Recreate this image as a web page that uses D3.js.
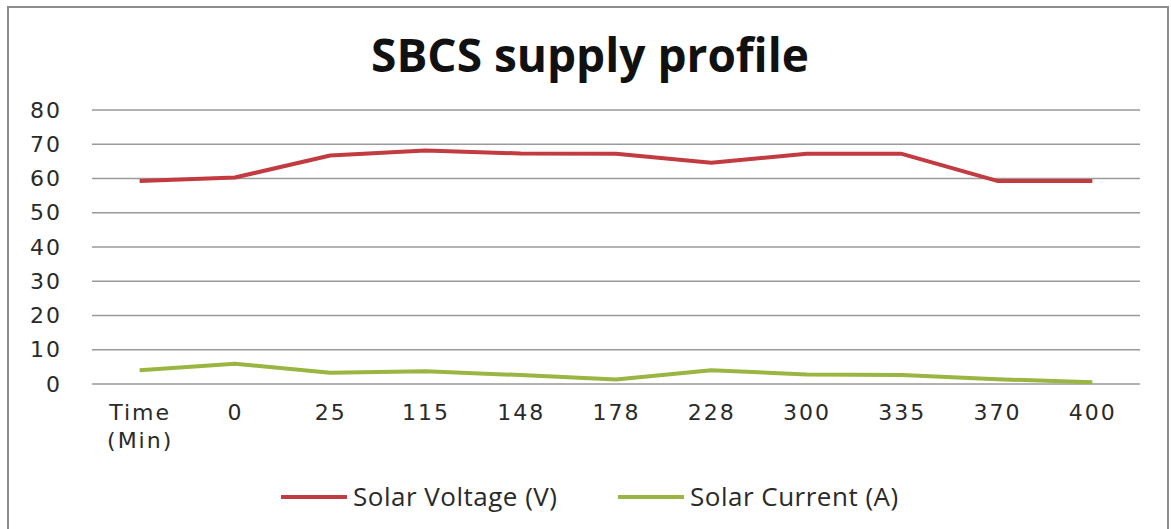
<!DOCTYPE html>
<html>
<head>
<meta charset="utf-8">
<script src="https://cdn.jsdelivr.net/npm/d3@7"></script>
<style>
  body { margin: 0; background: #fff; }
  text { font-family: "DejaVu Sans", sans-serif; fill: #2a2a2a; }
</style>
</head>
<body>
<div id="chart"></div>
<script>
(function () {

  var categories = ['Time (Min)', '0', '25', '115', '148', '178', '228', '300', '335', '370', '400']
  var voltage = [59.3, 60.3, 66.7, 68.2, 67.3, 67.2, 64.6, 67.2, 67.2, 59.3, 59.3]
  var current = [4.0, 5.9, 3.3, 3.7, 2.6, 1.3, 4.0, 2.8, 2.6, 1.4, 0.5]
  var yTicks = [0, 10, 20, 30, 40, 50, 60, 70, 80]

  var series = [
    {name: 'Solar Voltage (V)', values: voltage, color: '#c23b40'},
    {name: 'Solar Current (A)', values: current, color: '#9ab541'}
  ]

  var W = 1171, H = 529
  var margin = {top: 110, right: 31, bottom: 145, left: 92}
  var width = W - margin.left - margin.right,
      height = H - margin.top - margin.bottom

  var svg = d3.select('#chart').append('svg')
    .attr('width', W)
    .attr('height', H)

  // outer frame
  svg.append('rect')
    .attr('x', 8).attr('y', 7)
    .attr('width', 1160).attr('height', 530)
    .attr('fill', 'none')
    .attr('stroke', '#8c8c8c')
    .attr('stroke-width', 2)

  svg.append('text')
    .attr('x', 590).attr('y', 72)
    .attr('text-anchor', 'middle')
    .style('font-family', '"Open Sans", sans-serif')
    .style('font-weight', 'bold')
    .style('font-size', '46px')
    .style('fill', '#111')
    .text('SBCS supply profile')

  var g = svg.append('g')
    .attr('transform', 'translate(' + margin.left + ',' + margin.top + ')')

  var x = d3.scalePoint()
    .domain(categories)
    .range([0, width])
    .padding(0.5)

  var y = d3.scaleLinear()
    .domain([0, 80])
    .range([height, 0])

  // gridlines
  g.append('g')
    .selectAll('line')
    .data(yTicks)
    .enter().append('line')
    .attr('x1', 0).attr('x2', width)
    .attr('y1', d => y(d)).attr('y2', d => y(d))
    .attr('stroke', '#9a9a9a')
    .attr('stroke-width', 1.5)

  var yAxis = d3.axisLeft(y).tickValues(yTicks).tickSize(0).tickPadding(30)
  g.append('g')
    .attr('class', 'axis y-axis')
    .call(yAxis)
    .call(s => s.select('.domain').remove())
    .selectAll('text')
    .style('font-size', '22px')
    .style('letter-spacing', '2px')

  var xAxis = d3.axisBottom(x).tickSize(0).tickPadding(20)
  var xg = g.append('g')
    .attr('class', 'axis x-axis')
    .attr('transform', 'translate(0,' + height + ')')
    .call(xAxis)
  xg.select('.domain').remove()
  xg.selectAll('text')
    .style('font-size', '22px')
    .style('letter-spacing', '2px')
    .each(function (d) {
      var parts = d.split(' ')
      if (parts.length > 1) {
        var t = d3.select(this).text(null)
        parts.forEach(function (p, i) {
          t.append('tspan')
            .attr('x', 0)
            .attr('dy', i === 0 ? '0.71em' : '1.3em')
            .text(p)
        })
      }
    })

  var line = d3.line()
    .x((d, i) => x(categories[i]))
    .y(d => y(d))

  g.selectAll('.series')
    .data(series)
    .enter().append('path')
    .attr('class', 'series')
    .attr('d', d => line(d.values))
    .attr('fill', 'none')
    .attr('stroke', d => d.color)
    .attr('stroke-width', 4)
    .attr('stroke-linejoin', 'round')

  // legend
  var legendX = [281, 618]
  var legend = svg.selectAll('.legend')
    .data(series)
    .enter().append('g')
    .attr('class', 'legend')
    .attr('transform', (d, i) => 'translate(' + legendX[i] + ',497)')

  legend.append('line')
    .attr('x1', 0).attr('x2', 66)
    .attr('stroke', d => d.color)
    .attr('stroke-width', 4)

  legend.append('text')
    .attr('x', 72)
    .attr('dy', '0.35em')
    .style('font-family', '"Open Sans", sans-serif')
    .style('font-size', '26px')
    .style('letter-spacing', '0.5px')
    .text(d => d.name)

})()
</script>
</body>
</html>
